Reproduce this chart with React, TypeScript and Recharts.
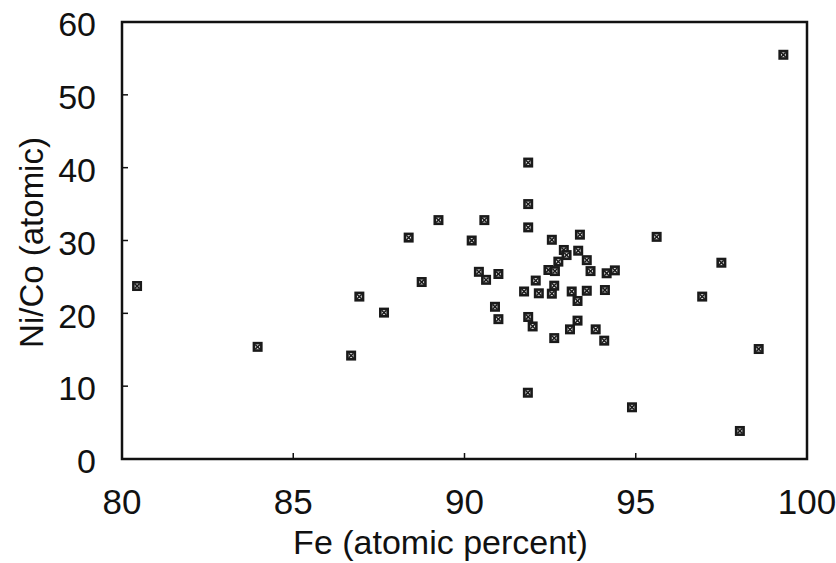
import React from "react";
import { ScatterChart, Scatter, XAxis, YAxis, ReferenceArea, Label } from "recharts";

const feValues = [
  80.44, 83.96, 86.69, 86.93, 87.65, 88.37, 88.75, 89.24, 90.21, 90.58,
  91.86, 91.86, 91.86, 92.55, 93.37, 95.61, 92.9, 92.98, 93.32, 93.57,
  92.74, 93.68, 92.45, 92.64, 94.15, 94.39, 90.42, 90.63, 90.99, 92.08,
  91.74, 92.17, 92.55, 92.62, 93.13, 93.57, 93.3, 94.1, 90.89, 90.99,
  91.86, 91.99, 93.3, 93.08, 93.83, 94.08, 92.62, 91.85, 94.89, 96.94,
  97.5, 98.04, 98.59, 99.31,
];
const niCoValues = [
  23.75, 15.4, 14.2, 22.3, 20.1, 30.4, 24.3, 32.8, 30.0, 32.8,
  40.7, 35.0, 31.8, 30.1, 30.8, 30.5, 28.7, 28.0, 28.6, 27.3,
  27.1, 25.8, 25.95, 25.8, 25.5, 25.9, 25.7, 24.6, 25.4, 24.5,
  23.0, 22.75, 22.7, 23.8, 23.0, 23.1, 21.7, 23.2, 20.9, 19.2,
  19.5, 18.2, 19.0, 17.8, 17.8, 16.25, 16.6, 9.1, 7.1, 22.3,
  26.95, 3.85, 15.1, 55.5,
];
const xTicks = [80, 85, 90, 95, 100];
const yTicks = [0, 10, 20, 30, 40, 50, 60];
const xLabel = "Fe (atomic percent)";
const yLabel = "Ni/Co (atomic)";

const data = feValues.map((fe, i) => ({ fe, nico: niCoValues[i] }));

const FONT = '"Liberation Sans", Arial, Helvetica, sans-serif';

const Marker = (props: any) => {
  const { cx, cy } = props;
  if (cx == null || cy == null) return null;
  const s = 10;
  const h = s / 2;
  const i = 2.4;
  return (
    <g>
      <rect x={cx - h} y={cy - h} width={s} height={s} fill="#1a1a1a" />
      <rect x={cx - i} y={cy - i} width={i * 2} height={i * 2} fill="#e8e8e8" />
      <line x1={cx - i} y1={cy - i} x2={cx + i} y2={cy + i} stroke="#1a1a1a" strokeWidth={1.5} />
      <line x1={cx + i} y1={cy - i} x2={cx - i} y2={cy + i} stroke="#1a1a1a" strokeWidth={1.5} />
    </g>
  );
};

const XTick = (props: any) => {
  const { x, y, payload } = props;
  const v = payload.value;
  return (
    <g>
      {v !== 80 && v !== 100 && (
        <line x1={x} y1={y} x2={x} y2={y - 6} stroke="#111" strokeWidth={1.5} />
      )}
      <text x={x} y={y + 55} textAnchor="middle" fontSize={35} fontFamily={FONT} fill="#111">
        {v}
      </text>
    </g>
  );
};

const YTick = (props: any) => {
  const { x, y, payload } = props;
  const v = payload.value;
  return (
    <g>
      {v !== 0 && v !== 60 && (
        <line x1={x} y1={y} x2={x + 6} y2={y} stroke="#111" strokeWidth={1.5} />
      )}
      <text x={x - 26} y={y + 2} dy="0.36em" textAnchor="end" fontSize={34} fontFamily={FONT} fill="#111">
        {v}
      </text>
    </g>
  );
};

const XLabelContent = (props: any) => {
  const vb = props.viewBox || {};
  const cx = vb.x + vb.width / 2 - 24;
  const y = vb.y + 95;
  return (
    <text x={cx} y={y} textAnchor="middle" fontSize={34} fontFamily={FONT} fill="#111">
      {xLabel}
    </text>
  );
};

const YLabelContent = (props: any) => {
  const vb = props.viewBox || {};
  const cx = 31;
  const cy = vb.y + vb.height / 2 + 2;
  return (
    <text
      x={cx}
      y={cy}
      dy="0.36em"
      textAnchor="middle"
      fontSize={33}
      fontFamily={FONT}
      fill="#111"
      transform={`rotate(-90, ${cx}, ${cy})`}
    >
      {yLabel}
    </text>
  );
};

export default function App() {
  return (
    <div style={{ position: "absolute", left: 0, top: 0, width: 836, height: 563, background: "#fff" }}>
      <ScatterChart width={836} height={563} margin={{ top: 22, right: 29, bottom: 44, left: 62 }}>
        <XAxis
          type="number"
          dataKey="fe"
          domain={[80, 100]}
          ticks={xTicks}
          interval={0}
          height={60}
          axisLine={false}
          tickLine={false}
          tickSize={0}
          tickMargin={0}
          tick={<XTick />}
          allowDataOverflow
        >
          <Label content={<XLabelContent />} />
        </XAxis>
        <YAxis
          type="number"
          dataKey="nico"
          domain={[0, 60]}
          ticks={yTicks}
          interval={0}
          width={60}
          axisLine={false}
          tickLine={false}
          tickSize={0}
          tickMargin={0}
          tick={<YTick />}
          allowDataOverflow
        >
          <Label content={<YLabelContent />} />
        </YAxis>
        <ReferenceArea x1={80} x2={100} y1={0} y2={60} fill="none" stroke="#111" strokeWidth={2.5} ifOverflow="visible" />
        <Scatter data={data} shape={<Marker />} isAnimationActive={false} />
      </ScatterChart>
    </div>
  );
}
